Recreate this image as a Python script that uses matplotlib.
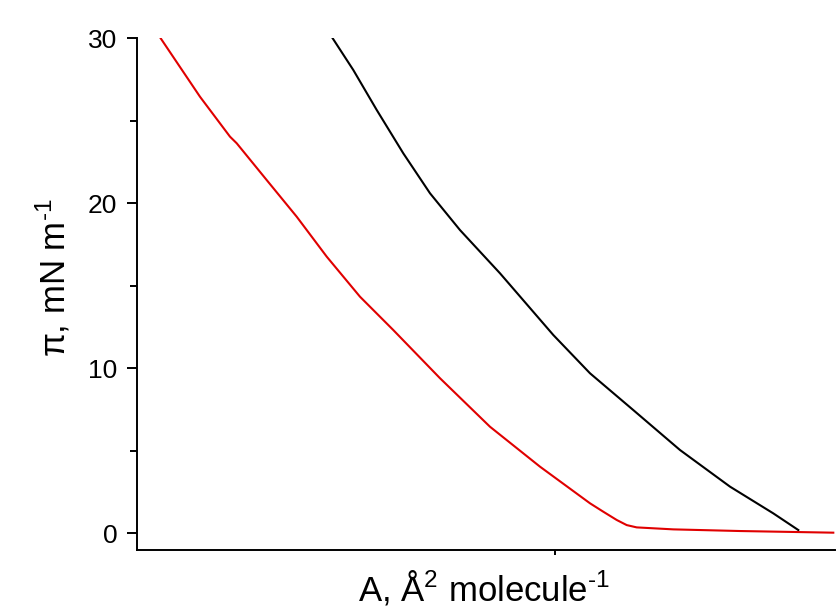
import matplotlib
matplotlib.use("Agg")
import matplotlib.pyplot as plt
from matplotlib.ticker import FixedLocator, NullFormatter

plt.rcParams['font.family'] = ['Liberation Sans', 'DejaVu Sans']
plt.rcParams['mathtext.fontset'] = 'custom'
plt.rcParams['mathtext.rm'] = 'Liberation Sans'
plt.rcParams['mathtext.it'] = 'Liberation Sans:italic'
plt.rcParams['mathtext.bf'] = 'Liberation Sans:bold'

# Red isotherm (area, surface pressure)
red_area = [20.77, 24.7, 27.7, 28.37, 31.37, 34.37, 37.37, 40.7, 44.03, 48.7,
            53.7, 58.7, 63.7, 65.03, 66.37, 67.37, 68.37, 72.03, 78.7, 88.03]
red_pi = [29.98, 26.44, 24.02, 23.62, 21.39, 19.17, 16.75, 14.32, 12.30, 9.38,
          6.44, 4.02, 1.8, 1.29, 0.79, 0.48, 0.34, 0.22, 0.12, 0.02]

# Black isotherm
black_area = [37.97, 40.03, 42.37, 45.03, 47.7, 50.7, 54.7, 60.03, 63.7,
              68.03, 72.7, 77.7, 82.03, 84.53]
black_pi = [29.98, 28.06, 25.64, 23.01, 20.59, 18.36, 15.74, 12.0, 9.68,
            7.45, 5.03, 2.81, 1.19, 0.18]

y_major = [0, 10, 20, 30]
y_minor = [5, 15, 25]
x_ticks = [60.2]

fig = plt.figure(figsize=(8.37, 6.07), dpi=100)
ax = fig.add_axes([137/837, 1-550/607, (835-137)/837, (550-38)/607])

ax.plot(black_area, black_pi, color='black', lw=1.5)
ax.plot(red_area, red_pi, color='#e00000', lw=1.5)

ax.set_xlim(18.4, 88.2)
ax.set_ylim(-1.03, 30)

for s in ['top', 'right']:
    ax.spines[s].set_visible(False)
for s in ['left', 'bottom']:
    ax.spines[s].set_linewidth(1.4)

ax.yaxis.set_major_locator(FixedLocator(y_major))
ax.yaxis.set_minor_locator(FixedLocator(y_minor))
ax.xaxis.set_major_locator(FixedLocator(x_ticks))
ax.xaxis.set_major_formatter(NullFormatter())
ax.tick_params(axis='y', which='major', direction='out', length=7.2, width=1.4,
               labelsize=19, pad=7)
ax.tick_params(axis='y', which='minor', direction='out', length=5, width=1.4)
ax.tick_params(axis='x', which='major', direction='out', length=3.5, width=1.4)

ax.set_ylabel('π, mN m$^{\u2010 1}$', fontsize=25)
ax.yaxis.set_label_coords(-0.093, 0.531)
ax.text(0.497, -0.0996, 'A, Å$^2$ molecule$^{\u2010 1}$', fontsize=25,
        transform=ax.transAxes, ha='center', va='baseline')

fig.savefig('out.png', dpi=100)
